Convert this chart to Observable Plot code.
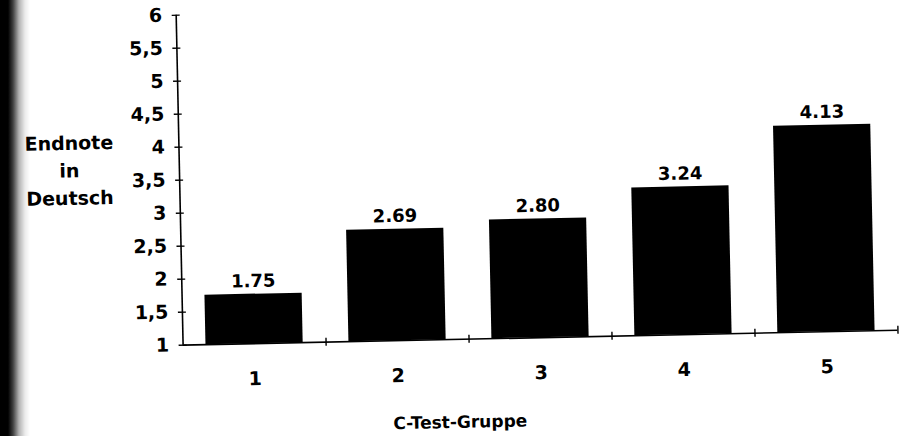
<!DOCTYPE html>
<html>
<head>
<meta charset="utf-8">
<script src="https://cdn.jsdelivr.net/npm/d3@7"></script>
<script src="https://cdn.jsdelivr.net/npm/@observablehq/plot@0.6"></script>
<style>
  html, body { margin: 0; padding: 0; background: #fff; overflow: hidden; width: 904px; height: 436px; }
  #chart { position: absolute; left: 0; top: 0; }
  #chart svg { transform: rotate(-1.2deg); transform-origin: 452px 218px; }
  #edge { position: absolute; left: 0; top: 0; width: 30px; height: 436px; z-index: 2;
    background: linear-gradient(to right, #000 0px, #000 8px, rgba(0,0,0,0.75) 13px, rgba(0,0,0,0.3) 19px, rgba(0,0,0,0.08) 25px, rgba(0,0,0,0) 30px); }
</style>
</head>
<body>
<div id="edge"></div>
<div id="chart"></div>
<script>
// Data
const groups = [1, 2, 3, 4, 5];
const values = [1.75, 2.69, 2.80, 3.24, 4.13];
const valueLabels = ["1.75", "2.69", "2.80", "3.24", "4.13"];
const xTickLabels = ["1", "2", "3", "4", "5"];
const xBoundaries = [1.5, 2.5, 3.5, 4.5, 5.5];
const yTicks = [1, 1.5, 2, 2.5, 3, 3.5, 4, 4.5, 5, 5.5, 6];
const yTickLabels = ["1", "1,5", "2", "2,5", "3", "3,5", "4", "4,5", "5", "5,5", "6"];
const xTitle = "C-Test-Gruppe";
const yTitle = ["Endnote", "in", "Deutsch"];

const data = groups.map((g, i) => ({g, v: values[i], label: valueLabels[i]}));
const halfBar = 0.34;

const chart = Plot.plot({
  width: 904,
  height: 436,
  marginLeft: 180,
  marginRight: 9,
  marginTop: 9,
  marginBottom: 97,
  x: {type: "linear", domain: [0.5, 5.5]},
  y: {type: "linear", domain: [1, 6]},
  style: {fontFamily: "'DejaVu Sans', sans-serif", fontWeight: "bold", fontSize: "18px", color: "#000", background: "#fff", overflow: "visible"},
  marks: [
    Plot.rectY(data, {x1: d => d.g - halfBar, x2: d => d.g + halfBar, y1: 1, y2: "v", fill: "#000"}),
    Plot.text(data, {x: "g", y: "v", text: "label", dy: -13, fontSize: 18, fontWeight: "bold", fill: "#000"}),
    Plot.ruleY([1], {stroke: "#000", strokeWidth: 1.6}),
    Plot.ruleX([0.5], {y1: 1, y2: 6, stroke: "#000", strokeWidth: 1.6}),
    Plot.axisY({ticks: yTicks, tickSize: 0, tickPadding: 14, tickFormat: d => yTickLabels[yTicks.indexOf(d)], label: null, fontSize: 19}),
    Plot.axisY({ticks: yTicks, tickSize: 8, dx: 4, tickFormat: () => "", label: null, strokeWidth: 1.4}),
    Plot.axisX({ticks: groups, tickSize: 0, tickPadding: 28, tickFormat: d => xTickLabels[groups.indexOf(d)], label: null, fontSize: 19}),
    Plot.axisX({ticks: xBoundaries, tickSize: 8, dy: -4, tickFormat: () => "", label: null, strokeWidth: 1.4}),
    Plot.text([xTitle], {frameAnchor: "bottom", dx: -82, dy: 83, textAnchor: "middle", lineAnchor: "middle", fontSize: 17, fontWeight: "bold"}),
    Plot.text([yTitle.join("\n")], {frameAnchor: "left", dx: -110, dy: -14, textAnchor: "middle", lineAnchor: "middle", lineHeight: 1.45, fontSize: 19, fontWeight: "bold"})
  ]
});
document.getElementById("chart").append(chart);
</script>
</body>
</html>
